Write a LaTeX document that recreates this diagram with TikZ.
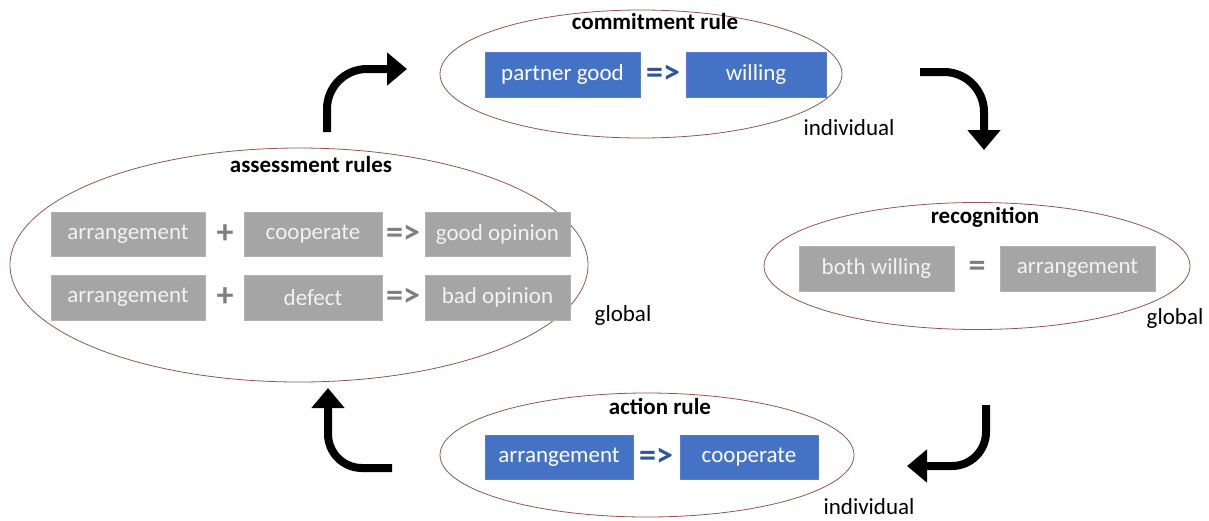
\documentclass[tikz,border=0pt]{standalone}
\usepackage{fontspec}
\setmainfont{Carlito}
\usetikzlibrary{shapes.geometric,arrows.meta}
\definecolor{boxblue}{HTML}{4472C4}
\definecolor{boxgray}{HTML}{A5A5A5}
\definecolor{symblue}{HTML}{2F5597}
\definecolor{symgray}{HTML}{7F7F7F}
\definecolor{ellcol}{HTML}{8E5656}
\tikzset{
  ell/.style={draw=ellcol, line width=0.8pt, ellipse, inner sep=0pt},
  bbox/.style={rectangle, fill=boxblue, draw=boxblue!90!white, line width=0.6pt, text=white, minimum height=45pt, inner sep=0pt, font=\fontsize{23}{27}\selectfont},
  gbox/.style={rectangle, fill=boxgray, draw=boxgray!85!white, line width=0.6pt, text=white!95!black, minimum height=45pt, inner sep=0pt, font=\fontsize{23}{27}\selectfont},
  bsym/.style={text=symblue, font=\fontsize{34}{38}\selectfont\bfseries, inner sep=0pt},
  gsym/.style={text=symgray, font=\fontsize{34}{38}\selectfont\bfseries, inner sep=0pt},
  ttl/.style={font=\fontsize{23}{27}\selectfont\bfseries, inner sep=0pt},
  lbl/.style={font=\fontsize{23}{27}\selectfont, inner sep=0pt},
  bigarrow/.style={line width=8pt, -{Triangle[width=32pt,length=20pt]}}
}
\begin{document}
\begin{tikzpicture}[x=1pt,y=-1pt]
\useasboundingbox (0,0) rectangle (1209,520);
% ellipses
\node[ell, minimum width=402pt, minimum height=128pt] (eTop) at (641,74) {};
\node[ell, minimum width=578pt, minimum height=234pt] (eLeft) at (299,265) {};
\node[ell, minimum width=426pt, minimum height=127pt] (eRight) at (977,266) {};
\node[ell, minimum width=414pt, minimum height=124pt] (eBot) at (647,455) {};
% titles
\node[ttl] (tTop) at (655,22) {commitment rule};
\node[ttl] (tLeft) at (311,165) {assessment rules};
\node[ttl] (tRight) at (985,217) {recognition};
\node[ttl] (tBot) at (660,406) {action rule};
% top
\node[bbox, minimum width=155pt] (pg) at (562.5,74.5) {partner good};
\node[bsym] (impTop) at (663,74.5) {=>};
\node[bbox, minimum width=140pt] (will) at (756,74.5) {willing};
\node[lbl] (indTop) at (849,128) {individual};
% left
\node[gbox, minimum width=154pt, minimum height=44pt] (arrA) at (128,234) {arrangement};
\node[gsym] (plA) at (225,234) {+};
\node[gbox, minimum width=138pt, minimum height=44pt] (coopA) at (313,234) {cooperate};
\node[gsym] (impA) at (403,234) {=>};
\node[gbox, minimum width=145pt, minimum height=44pt] (good) at (497.5,234) {good opinion};
\node[gbox, minimum width=154pt] (arrB) at (128,297.5) {arrangement};
\node[gsym] (plB) at (225,297.5) {+};
\node[gbox, minimum width=138pt] (defect) at (313,297.5) {defect};
\node[gsym] (impB) at (403,297.5) {=>};
\node[gbox, minimum width=145pt] (bad) at (497.5,297.5) {bad opinion};
\node[lbl] (globL) at (623,315) {global};
% right
\node[gbox, minimum width=155pt] (bw) at (876.5,268.5) {both willing};
\node[gsym] (eq) at (977,268.5) {=};
\node[gbox, minimum width=155pt] (arrR) at (1077.5,268.5) {arrangement};
\node[lbl] (globR) at (1175,318) {global};
% bottom
\node[bbox, minimum width=148pt, minimum height=44pt] (arrBot) at (559,457) {arrangement};
\node[bsym] (impBot) at (656,457) {=>};
\node[bbox, minimum width=138pt, minimum height=44pt] (coopBot) at (749,457) {cooperate};
\node[lbl] (indBot) at (869,507) {individual};
% arrows
\coordinate (a1s) at (327,132);
\coordinate (a1e) at (407,69);
\coordinate (a2s) at (920,72);
\coordinate (a2e) at (984,150);
\coordinate (a3s) at (986,405);
\coordinate (a3e) at (907,466);
\coordinate (a4s) at (392,468);
\coordinate (a4e) at (328,388);
\draw[bigarrow, rounded corners=40pt] (a1s) |- (a1e);
\draw[bigarrow, rounded corners=40pt] (a2s) -| (a2e);
\draw[bigarrow, rounded corners=34pt] (a3s) |- (a3e);
\draw[bigarrow, rounded corners=34pt] (a4s) -| (a4e);
\end{tikzpicture}
\end{document}
